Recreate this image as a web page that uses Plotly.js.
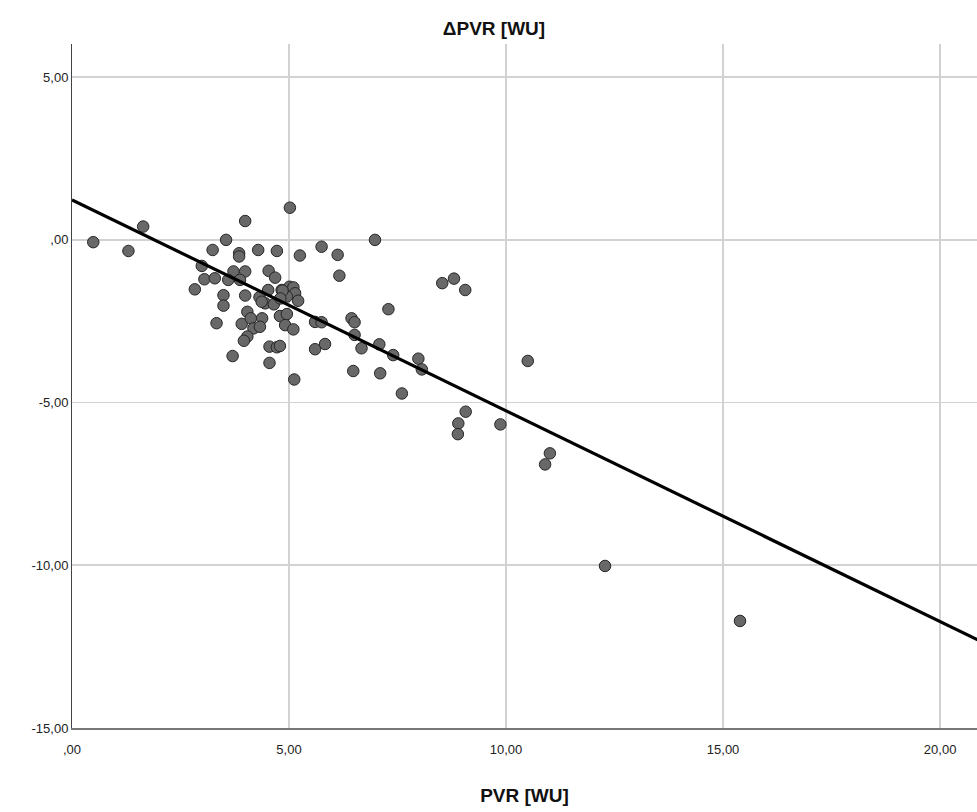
<!DOCTYPE html>
<html>
<head>
<meta charset="utf-8">
<script src="https://cdn.plot.ly/plotly-3.0.1.min.js"></script>
<style>html,body{margin:0;padding:0;background:#fff;}#chart{width:977px;height:812px;}</style>
</head>
<body>
<div id="chart"></div>
<script>
// PVR [WU] (x) and ΔPVR [WU] (y)
const pvr = [0.49,1.30,1.64,5.02,3.99,3.55,3.24,3.85,3.85,4.29,4.72,5.25,5.75,6.12,6.98,6.16,
  2.99,3.05,3.29,3.72,3.99,3.60,3.87,2.83,4.53,4.68,3.49,3.49,3.99,4.52,4.32,4.45,4.83,5.01,5.10,
  5.14,5.21,4.95,3.33,3.91,4.04,4.12,4.38,4.18,4.33,4.04,3.96,4.79,4.95,4.91,5.10,4.55,4.72,4.79,
  3.70,4.55,5.12,5.60,5.75,5.60,5.83,6.44,6.51,6.51,6.67,6.48,7.08,7.10,7.29,7.40,7.60,7.98,8.06,
  8.53,8.80,9.06,10.50,9.07,8.90,8.89,9.87,11.01,10.90,12.28,15.39,4.85,4.65,4.80,4.37];
const dpvr = [-0.07,-0.34,0.41,0.99,0.58,0.00,-0.31,-0.41,-0.51,-0.31,-0.34,-0.48,-0.21,-0.46,0.00,-1.10,
  -0.80,-1.21,-1.18,-0.97,-0.97,-1.23,-1.23,-1.52,-0.95,-1.16,-1.70,-2.02,-1.71,-1.54,-1.76,-1.95,-1.54,-1.44,-1.46,
  -1.64,-1.87,-1.74,-2.56,-2.58,-2.21,-2.41,-2.41,-2.72,-2.67,-2.97,-3.10,-2.34,-2.28,-2.62,-2.75,-3.28,-3.30,-3.26,
  -3.57,-3.78,-4.29,-2.52,-2.53,-3.36,-3.20,-2.41,-2.53,-2.92,-3.33,-4.03,-3.21,-4.10,-2.13,-3.54,-4.72,-3.65,-3.98,
  -1.33,-1.19,-1.54,-3.72,-5.28,-5.64,-5.97,-5.67,-6.56,-6.90,-10.02,-11.71,-1.56,-1.98,-1.80,-1.90];
// fit line endpoints
const fitX = [0, 21];
const fitY = [1.23, -12.38];
// ticks
const xTickVals = [0, 5, 10, 15, 20];
const xTickText = [",00", "5,00", "10,00", "15,00", "20,00"];
const yTickVals = [5, 0, -5, -10, -15];
const yTickText = ["5,00", ",00", "-5,00", "-10,00", "-15,00"];

const font = "Liberation Sans, Arial, sans-serif";
const traces = [
  {x: pvr, y: dpvr, type: "scatter", mode: "markers",
   marker: {size: 11.5, color: "#686868", line: {color: "#262626", width: 1}},
   hoverinfo: "x+y", showlegend: false},
  {x: fitX, y: fitY, type: "scatter", mode: "lines",
   line: {color: "#000", width: 3.2}, showlegend: false}
];
const layout = {
  width: 977, height: 812,
  margin: {l: 72, r: 0, t: 44, b: 84},
  paper_bgcolor: "#fff", plot_bgcolor: "#fff",
  font: {family: font, size: 13, color: "#222"},
  title: {text: "<b>ΔPVR [WU]</b>", font: {family: font, size: 19, color: "#111"},
          x: 494/977, xanchor: "center", xref: "container", y: 1 - 28/812, yanchor: "middle", yref: "container"},
  xaxis: {range: [0, 20.85], tickvals: xTickVals, ticktext: xTickText,
          showgrid: true, gridcolor: "#d2d2d2", gridwidth: 1.6, zeroline: false,
          showline: true, linecolor: "#777", linewidth: 2, ticks: "", ticklen: 0,
          ticklabelstandoff: 8,
          tickfont: {family: font, size: 13, color: "#222"},
          title: {text: "<b>PVR [WU]</b>", font: {family: font, size: 19, color: "#111"}, standoff: 33}},
  yaxis: {range: [-15, 6.02], tickvals: yTickVals, ticktext: yTickText,
          showgrid: true, gridcolor: "#d2d2d2", gridwidth: 1.6, zeroline: false,
          showline: true, linecolor: "#444", linewidth: 1, ticks: "",
          tickfont: {family: font, size: 13, color: "#222"}}
};
Plotly.newPlot("chart", traces, layout, {displayModeBar: false, staticPlot: true});
</script>
</body>
</html>
